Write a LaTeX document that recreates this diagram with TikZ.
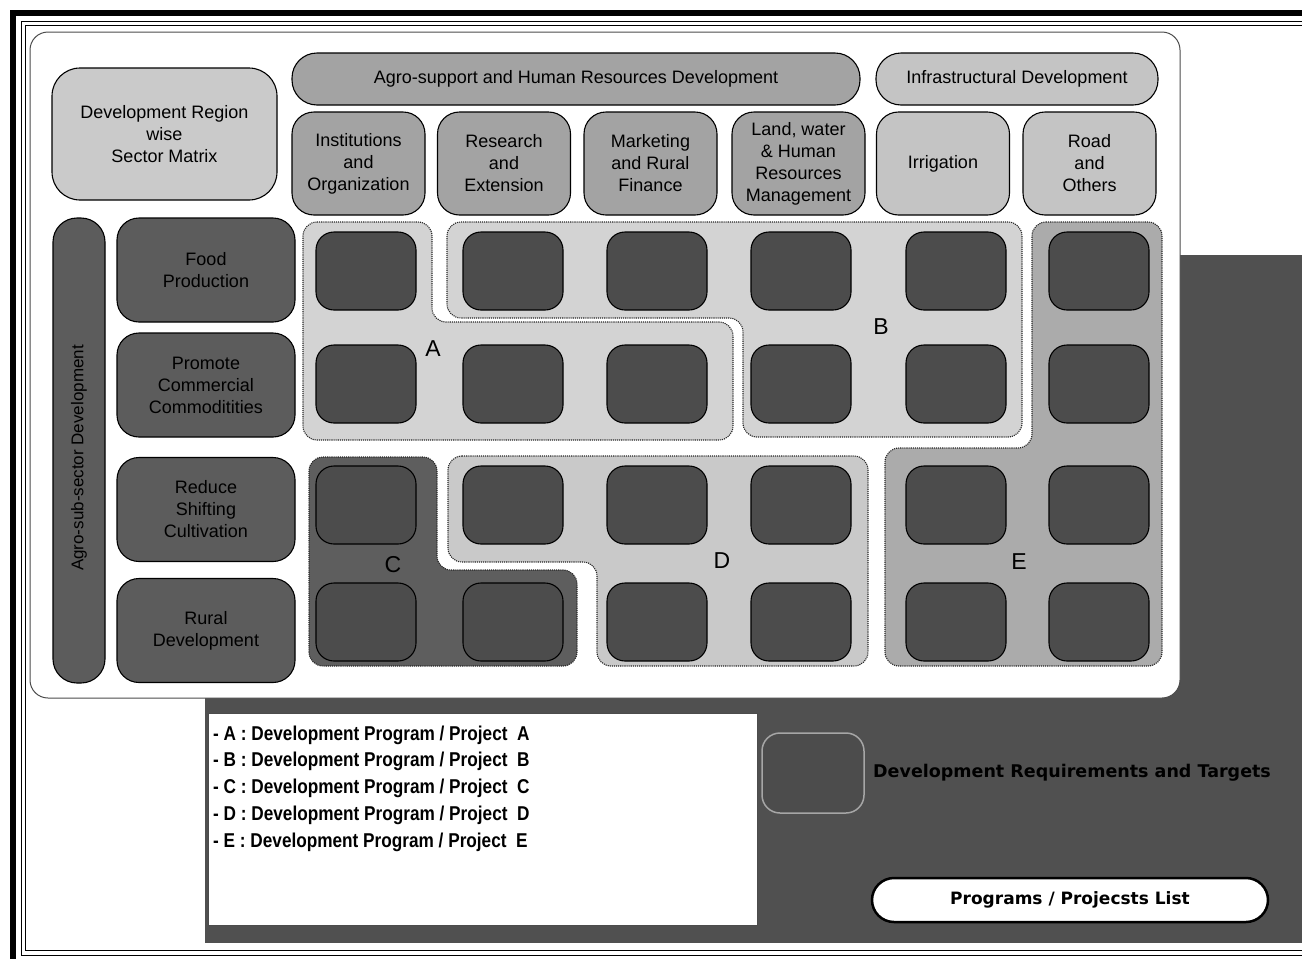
\documentclass[tikz,border=0pt]{standalone}
\usepackage{fontspec}
\setmainfont{Liberation Sans}
\newfontfamily\condf[FakeStretch=0.86]{Liberation Sans}
\newfontfamily\dvs{DejaVu Sans}
\definecolor{bgdark}{HTML}{505050}
\definecolor{cellc}{HTML}{4C4C4C}
\definecolor{hdrlight}{HTML}{CACACA}
\definecolor{hdrmid}{HTML}{A3A3A3}
\definecolor{hdrinf}{HTML}{C4C4C4}
\definecolor{rowc}{HTML}{5C5C5C}
\definecolor{rega}{HTML}{D3D3D3}
\definecolor{regd}{HTML}{C9C9C9}
\definecolor{rege}{HTML}{ABABAB}
\definecolor{regc}{HTML}{5E5E5E}
\begin{document}
\begin{tikzpicture}[x=1pt,y=-1pt,
  every node/.style={font=\fontsize{18}{22}\selectfont, align=center, inner sep=0pt},
  box/.style={draw=black, line width=1.1pt, rounded corners=20pt},
  cell/.style={box, fill=cellc, minimum width=100pt, minimum height=78pt, rounded corners=18pt},
  subhdr/.style={box, minimum width=133pt, minimum height=103pt, rounded corners=22pt},
  rowlbl/.style={box, fill=rowc, minimum width=178pt, minimum height=104pt, rounded corners=22pt},
  region/.style={draw=black!85, line width=1.1pt, densely dotted, rounded corners=14pt},
  rlabel/.style={font=\fontsize{23}{23}\selectfont},
  legline/.style={anchor=west, font={\condf\bfseries\fontsize{20}{20}\selectfont}}]
\useasboundingbox (0,0) rectangle (1302,959);
% outer frame
\fill[black] (10,10) rectangle (1302,16);
\fill[black] (10,10) rectangle (16,959);
\draw[line width=0.9pt] (1302,21) -- (21,21) -- (21,955) -- (1302,955);
\draw[line width=0.9pt] (1302,25) -- (25,25) -- (25,950) -- (1302,950);
% dark background
\fill[bgdark] (205,255) rectangle (1302,943);
% main panel
\draw[draw=black!70, line width=1pt, fill=white, rounded corners=18pt] (30,32) rectangle (1180,698);
% headers
\node[box, fill=hdrlight, minimum width=225pt, minimum height=132pt, rounded corners=28pt] (devreg) at (164.5,134) {Development Region\\wise\\Sector Matrix};
\node[box, fill=hdrmid, minimum width=568pt, minimum height=52pt, rounded corners=25pt] (agro) at (576,79) {Agro-support and Human Resources Development};
\node[box, fill=hdrinf, minimum width=282pt, minimum height=52pt, rounded corners=25pt] (infra) at (1017,79) {Infrastructural Development};
\node[subhdr, fill=hdrmid] (h1) at (358.5,163.5) {Institutions\\and\\Organization};
\node[subhdr, fill=hdrmid] (h2) at (504,163.5) {Research\\and\\Extension};
\node[subhdr, fill=hdrmid] (h3) at (650.5,163.5) {Marketing\\and Rural\\Finance};
\node[subhdr, fill=hdrmid] (h4) at (798.5,163.5) {Land, water\\\& Human\\Resources\\Management};
\node[subhdr, fill=hdrinf] (h5) at (943,163.5) {Irrigation};
\node[subhdr, fill=hdrinf] (h6) at (1089.5,163.5) {Road\\and\\Others};
% row labels
\node[box, fill=rowc, minimum width=52pt, minimum height=465pt, rounded corners=24pt] (vbar) at (79,450.5) {};
\node[rotate=90, font=\fontsize{17}{17}\selectfont] (vtxt) at (79,458) {Agro-sub-sector Development};
\node[rowlbl] (r1) at (206,270) {Food\\Production};
\node[rowlbl] (r2) at (206,385) {Promote\\Commercial\\Commoditities};
\node[rowlbl] (r3) at (206,509.5) {Reduce\\Shifting\\Cultivation};
\node[rowlbl] (r4) at (206,630.5) {Rural\\Development};
% regions
\path[region, fill=rega] (303,222) -- (432,222) -- (432,322) -- (733,322) -- (733,440) -- (303,440) -- cycle;
\path[region, fill=rega] (447,222) -- (1022,222) -- (1022,437) -- (743,437) -- (743,318) -- (447,318) -- cycle;
\path[region, fill=rege] (1032,222) -- (1162,222) -- (1162,666) -- (885,666) -- (885,448) -- (1032,448) -- cycle;
\path[region, fill=regd] (448,456) -- (868,456) -- (868,666) -- (597,666) -- (597,562) -- (448,562) -- cycle;
\path[region, fill=regc] (309,457) -- (437,457) -- (437,570) -- (577,570) -- (577,666) -- (309,666) -- cycle;
% cells
\foreach \r/\y in {1/271,2/384,3/505,4/622}
  \foreach \c/\x in {1/366,2/513,3/657,4/801,5/956,6/1099}
    \node[cell] (c\r\c) at (\x,\y) {};
% region labels
\node[rlabel] (lA) at (433,349) {A};
\node[rlabel] (lB) at (881,327) {B};
\node[rlabel] (lC) at (393,565) {C};
\node[rlabel] (lD) at (722,561) {D};
\node[rlabel] (lE) at (1019,562) {E};
% legend
\node[fill=white, draw=black!70, line width=0.8pt, minimum width=549pt, minimum height=212pt] (legend) at (482.5,819) {};
\node[legline] (la) at (213,735) {- A : Development Program / Project\ \ A};
\node[legline] (lb) at (213,761) {- B : Development Program / Project\ \ B};
\node[legline] (lc) at (213,788) {- C : Development Program / Project\ \ C};
\node[legline] (ld) at (213,815) {- D : Development Program / Project\ \ D};
\node[legline] (le) at (213,842) {- E : Development Program / Project\ \ E};
\node[cell, draw=black!35, line width=1.5pt, minimum width=102pt, minimum height=80pt] (key) at (813,773) {};
\node[anchor=west, font={\dvs\bfseries\fontsize{17.5}{17.5}\selectfont}] (keytxt) at (873,773) {Development Requirements and Targets};
\node[draw=black, line width=2.5pt, fill=white, rounded corners=22pt, minimum width=396pt, minimum height=44pt, font={\dvs\bfseries\fontsize{17}{17}\selectfont}] (pill) at (1070,900) {Programs / Projecsts List};
\end{tikzpicture}
\end{document}
